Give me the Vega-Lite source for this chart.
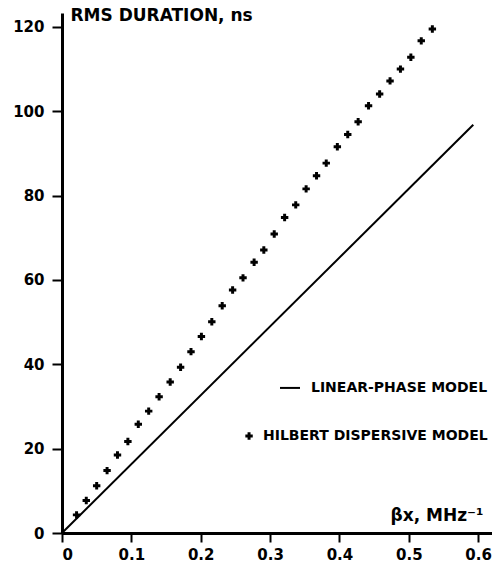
{
  "$schema": "https://vega.github.io/schema/vega-lite/v6.json",
  "width": 430,
  "height": 520,
  "autosize": {"type": "none"},
  "padding": {"left": 62, "top": 13, "right": 0, "bottom": 35},
  "background": "white",
  "config": {
    "view": {"stroke": null},
    "axis": {
      "grid": false,
      "domainColor": "black",
      "domainWidth": 3,
      "tickColor": "black",
      "tickWidth": 2,
      "tickSize": 10,
      "labelFont": "DejaVu Sans",
      "labelFontWeight": "bold",
      "labelFontSize": 15,
      "labelColor": "black",
      "titleFont": "DejaVu Sans",
      "titleFontWeight": "bold",
      "titleFontSize": 17,
      "titleColor": "black"
    }
  },
  "datasets": {
    "hilbert": [
      {"bx": 0.021, "rms": 4.3}, {"bx": 0.035, "rms": 7.7}, {"bx": 0.050, "rms": 11.2},
      {"bx": 0.065, "rms": 14.8}, {"bx": 0.080, "rms": 18.5}, {"bx": 0.095, "rms": 21.7},
      {"bx": 0.110, "rms": 25.8}, {"bx": 0.125, "rms": 28.9}, {"bx": 0.140, "rms": 32.3},
      {"bx": 0.156, "rms": 35.8}, {"bx": 0.171, "rms": 39.3}, {"bx": 0.186, "rms": 43.0},
      {"bx": 0.201, "rms": 46.6}, {"bx": 0.216, "rms": 50.1}, {"bx": 0.231, "rms": 53.9},
      {"bx": 0.246, "rms": 57.6}, {"bx": 0.261, "rms": 60.5}, {"bx": 0.277, "rms": 64.2},
      {"bx": 0.291, "rms": 67.1}, {"bx": 0.306, "rms": 70.9}, {"bx": 0.321, "rms": 74.8},
      {"bx": 0.337, "rms": 77.8}, {"bx": 0.352, "rms": 81.6}, {"bx": 0.367, "rms": 84.7},
      {"bx": 0.381, "rms": 87.7}, {"bx": 0.397, "rms": 91.6}, {"bx": 0.412, "rms": 94.5},
      {"bx": 0.427, "rms": 97.5}, {"bx": 0.442, "rms": 101.3}, {"bx": 0.458, "rms": 104.1},
      {"bx": 0.473, "rms": 107.2}, {"bx": 0.488, "rms": 110.0}, {"bx": 0.503, "rms": 112.8},
      {"bx": 0.518, "rms": 116.7}, {"bx": 0.534, "rms": 119.5}
    ],
    "linear": [
      {"bx": 0, "rms": 0}, {"bx": 0.593, "rms": 96.8}
    ],
    "legendLinear": [{"label": "LINEAR-PHASE MODEL"}],
    "legendHilbert": [{"label": "HILBERT DISPERSIVE MODEL"}]
  },
  "layer": [
    {
      "data": {"name": "linear"},
      "mark": {"type": "line", "color": "black", "strokeWidth": 2},
      "encoding": {
        "x": {
          "field": "bx", "type": "quantitative",
          "scale": {"domain": [0, 0.62], "nice": false, "zero": false},
          "axis": {
            "values": [0, 0.1, 0.2, 0.3, 0.4, 0.5, 0.6],
            "format": ".1~f",
            "tickSize": 9,
            "labelPadding": 5,
            "title": "βx, MHz⁻¹",
            "titleAnchor": "start",
            "titleAlign": "left",
            "titleBaseline": "alphabetic",
            "titleX": 328,
            "titleY": -13
          }
        },
        "y": {
          "field": "rms", "type": "quantitative",
          "scale": {"domain": [0, 123.3], "nice": false, "zero": false},
          "axis": {
            "values": [0, 20, 40, 60, 80, 100, 120],
            "labelPadding": 8,
            "title": "RMS DURATION, ns",
            "titleAngle": 0,
            "titleAlign": "left",
            "titleBaseline": "alphabetic",
            "titleX": 8,
            "titleY": 7
          }
        }
      }
    },
    {
      "data": {"name": "hilbert"},
      "mark": {"type": "point", "shape": "cross", "filled": true, "color": "black", "size": 55, "opacity": 1},
      "encoding": {
        "x": {"field": "bx", "type": "quantitative"},
        "y": {"field": "rms", "type": "quantitative"}
      }
    },
    {
      "data": {"name": "legendLinear"},
      "mark": {"type": "rule", "color": "black", "strokeWidth": 2},
      "encoding": {
        "x": {"datum": 0.3143, "type": "quantitative"},
        "x2": {"datum": 0.3432},
        "y": {"datum": 34.4, "type": "quantitative"}
      }
    },
    {
      "data": {"name": "legendLinear"},
      "mark": {"type": "text", "align": "left", "baseline": "middle", "font": "DejaVu Sans", "fontWeight": "bold", "fontSize": 14, "color": "black"},
      "encoding": {
        "x": {"datum": 0.359, "type": "quantitative"},
        "y": {"datum": 34.5, "type": "quantitative"},
        "text": {"field": "label"}
      }
    },
    {
      "data": {"name": "legendHilbert"},
      "mark": {"type": "point", "shape": "cross", "filled": true, "color": "black", "size": 55, "opacity": 1},
      "encoding": {
        "x": {"datum": 0.2697, "type": "quantitative"},
        "y": {"datum": 23.0, "type": "quantitative"}
      }
    },
    {
      "data": {"name": "legendHilbert"},
      "mark": {"type": "text", "align": "left", "baseline": "middle", "font": "DejaVu Sans", "fontWeight": "bold", "fontSize": 14, "color": "black"},
      "encoding": {
        "x": {"datum": 0.2898, "type": "quantitative"},
        "y": {"datum": 23.0, "type": "quantitative"},
        "text": {"field": "label"}
      }
    }
  ]
}
